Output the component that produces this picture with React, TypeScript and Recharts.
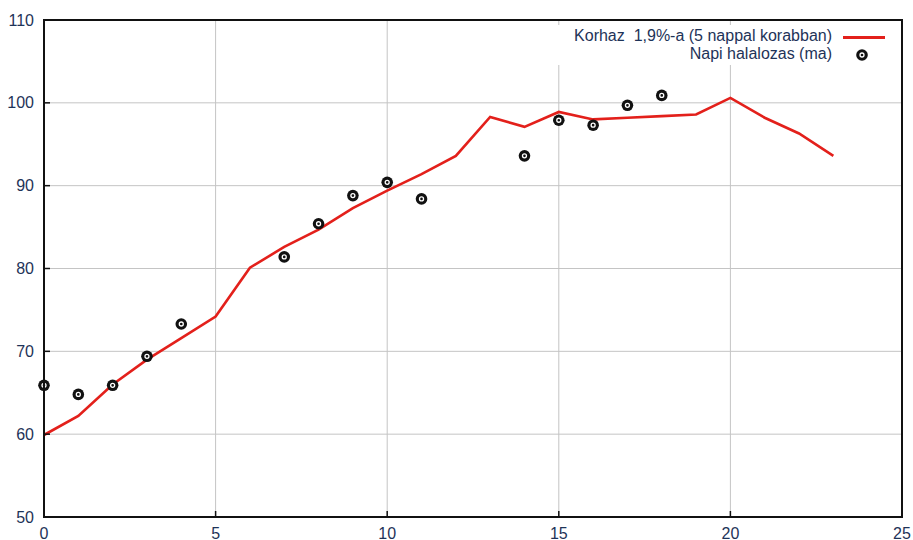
import React from 'react'
import {
  ComposedChart,
  Line,
  Scatter,
  XAxis,
  YAxis,
  CartesianGrid,
} from 'recharts'

// kórház 1,9%-a, 5 nappal korábban (napok 0..23)
const days = [0, 1, 2, 3, 4, 5, 6, 7, 8, 9, 10, 11, 12, 13, 14, 15, 16, 17, 18, 19, 20, 21, 22, 23]
const hospital = [
  59.9, 62.2, 66.0, 69.0, 71.6, 74.2, 80.1, 82.6, 84.7, 87.3, 89.4, 91.4,
  93.6, 98.3, 97.1, 98.9, 98.0, 98.2, 98.4, 98.6, 100.6, 98.2, 96.3, 93.6,
]

// napi halálozás (ma)
const deathDays = [0, 1, 2, 3, 4, 7, 8, 9, 10, 11, 14, 15, 16, 17, 18]
const deaths = [65.9, 64.8, 65.9, 69.4, 73.3, 81.4, 85.4, 88.8, 90.4, 88.4, 93.6, 97.9, 97.3, 99.7, 100.9]

const xTicks = [0, 5, 10, 15, 20, 25]
const yTicks = [50, 60, 70, 80, 90, 100, 110]

const lineData = days.map((x, i) => ({ x, y: hospital[i] }))
const dotData = deathDays.map((x, i) => ({ x, y: deaths[i] }))

const W = 913
const H = 540
const LEFT = 44
const RIGHT = 902
const TOP = 20
const BOTTOM = 517
const RED = '#e3201b'
const TXT = '#1e3358'
const AX = '#111'
const FONT = '"Liberation Sans", Arial, sans-serif'

function Dot({ cx, cy }: any) {
  return (
    <g>
      <circle cx={cx} cy={cy} r={5.8} fill="#111" />
      <circle cx={cx} cy={cy} r={2} fill="none" stroke="#fff" strokeWidth={1.3} />
    </g>
  )
}

function YTick({ y, payload }: any) {
  return (
    <g>
      <line x1={LEFT} x2={LEFT + 6} y1={y} y2={y} stroke={AX} strokeWidth={1.5} />
      <text x={34} y={y} textAnchor="end" dominantBaseline="central" fill={TXT} fontSize={16} fontFamily={FONT}>
        {payload.value}
      </text>
    </g>
  )
}

function XTick({ x, payload }: any) {
  return (
    <g>
      <line x1={x} x2={x} y1={BOTTOM} y2={BOTTOM - 6} stroke={AX} strokeWidth={1.5} />
      <text x={x} y={533} textAnchor="middle" dominantBaseline="central" fill={TXT} fontSize={16} fontFamily={FONT}>
        {payload.value}
      </text>
    </g>
  )
}

function TopTick({ x }: any) {
  return <line x1={x} x2={x} y1={TOP} y2={TOP + 6} stroke={AX} strokeWidth={1.5} />
}

function RightTick({ y }: any) {
  return <line x1={RIGHT} x2={RIGHT - 6} y1={y} y2={y} stroke={AX} strokeWidth={1.5} />
}

export default function App() {
  return (
    <div style={{ position: 'absolute', left: 0, top: 0, width: W, height: H, background: '#fff' }}>
      <ComposedChart
        width={W}
        height={H}
        margin={{ top: TOP, right: W - RIGHT, bottom: 0, left: 0 }}
      >
        <CartesianGrid stroke="#c4c4c4" strokeWidth={1} />
        <XAxis
          type="number"
          dataKey="x"
          domain={[0, 25]}
          ticks={xTicks}
          height={H - BOTTOM}
          axisLine={false}
          tickLine={false}
          tick={<XTick />}
          interval={0}
        />
        <XAxis
          xAxisId="top"
          orientation="top"
          type="number"
          domain={[0, 25]}
          ticks={[5, 10, 15, 20]}
          height={0}
          axisLine={false}
          tickLine={false}
          tick={<TopTick />}
          interval={0}
        />
        <YAxis
          type="number"
          dataKey="y"
          domain={[50, 110]}
          ticks={yTicks}
          width={LEFT}
          axisLine={false}
          tickLine={false}
          tick={<YTick />}
          interval={0}
        />
        <YAxis
          yAxisId="right"
          orientation="right"
          type="number"
          domain={[50, 110]}
          ticks={[60, 70, 80, 90, 100]}
          width={0}
          axisLine={false}
          tickLine={false}
          tick={<RightTick />}
          interval={0}
        />
        <Line
          data={lineData}
          dataKey="y"
          stroke={RED}
          strokeWidth={2.6}
          dot={false}
          activeDot={false}
          isAnimationActive={false}
        />
        <Scatter data={dotData} dataKey="y" shape={<Dot />} isAnimationActive={false} />
      </ComposedChart>

      {/* jelmagyarázat */}
      <div
        style={{
          position: 'absolute',
          left: 552,
          top: 25,
          width: 346,
          height: 40,
          background: '#fff',
          fontFamily: FONT,
          fontSize: 16,
          color: TXT,
        }}
      >
        <div style={{ position: 'absolute', right: 66, top: 2, whiteSpace: 'pre', lineHeight: '18px' }}>
          Korhaz  1,9%-a (5 nappal korabban)
        </div>
        <div style={{ position: 'absolute', left: 291, top: 11, width: 42, height: 2.5, background: RED }} />
        <div style={{ position: 'absolute', right: 66, top: 20, whiteSpace: 'pre', lineHeight: '18px' }}>
          Napi halalozas (ma)
        </div>
        <svg style={{ position: 'absolute', left: 303, top: 23 }} width={14} height={14}>
          <Dot cx={7} cy={7} />
        </svg>
      </div>

      {/* keret */}
      <svg style={{ position: 'absolute', left: 0, top: 0, pointerEvents: 'none' }} width={W} height={H}>
        <rect x={LEFT} y={TOP} width={RIGHT - LEFT} height={BOTTOM - TOP} fill="none" stroke={AX} strokeWidth={2} />
      </svg>
    </div>
  )
}
